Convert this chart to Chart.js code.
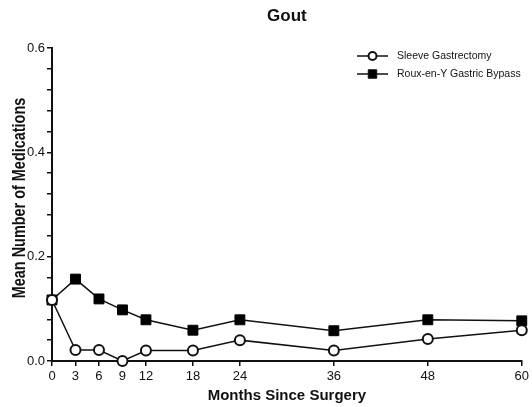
<!DOCTYPE html>
<html>
<head>
<meta charset="utf-8">
<script src="https://cdn.jsdelivr.net/npm/chart.js@4"></script>
<style>
  html, body { margin: 0; padding: 0; background: #fff; }
  #wrap { width: 532px; height: 407px; }
</style>
</head>
<body>
<div id="wrap"><canvas id="goutChart"></canvas></div>
<script>
// months after surgery (x values)
const months = [0, 3, 6, 9, 12, 18, 24, 36, 48, 60];
// mean number of medications
const sleeveValues = [0.117, 0.021, 0.021, 0.0, 0.02, 0.02, 0.04, 0.02, 0.042, 0.059];
const bypassValues = [0.117, 0.157, 0.119, 0.098, 0.079, 0.059, 0.079, 0.058, 0.079, 0.077];
const seriesNames = ['Sleeve Gastrectomy', 'Roux-en-Y Gastric Bypass'];
const yLabelTicks = [0, 0.2, 0.4, 0.6];
const yTitle = 'Mean Number of Medications';

const FONT = 'Arial, "Liberation Sans", sans-serif';
const INK = '#111';

const toPoints = vals => months.map((m, i) => ({ x: m, y: vals[i] }));

// legend drawn by hand: short line through the marker, like the original figure
const lineLegend = {
    id: 'lineLegend',
    afterDraw(chart) {
        const ctx = chart.ctx;
        const x0 = 357, x1 = 388, tx = 397;
        const rows = [56, 74];
        chart.data.datasets.forEach((ds, i) => {
            const y = rows[i];
            ctx.save();
            ctx.strokeStyle = INK;
            ctx.lineWidth = 1.5;
            ctx.beginPath();
            ctx.moveTo(x0, y);
            ctx.lineTo(x1, y);
            ctx.stroke();
            ctx.fillStyle = ds.pointBackgroundColor;
            ctx.strokeStyle = INK;
            ctx.lineWidth = ds.pointBorderWidth;
            Chart.helpers.drawPoint(ctx, {
                pointStyle: ds.pointStyle,
                radius: ds.pointStyle === 'rect' ? 6 : 4,
                borderWidth: ds.pointBorderWidth
            }, (x0 + x1) / 2, y);
            ctx.fillStyle = INK;
            ctx.font = '10.5px ' + FONT;
            ctx.textBaseline = 'middle';
            ctx.textAlign = 'left';
            ctx.fillText(ds.label, tx, y);
            ctx.restore();
        });
    }
};

// y axis title: the original is squeezed along its length, so draw it rotated and scaled
const yTitlePlugin = {
    id: 'yTitlePlugin',
    afterDraw(chart) {
        const ctx = chart.ctx;
        ctx.save();
        ctx.translate(20, 198);
        ctx.rotate(-Math.PI / 2);
        ctx.scale(0.76, 1);
        ctx.fillStyle = INK;
        ctx.font = 'bold 19px ' + FONT;
        ctx.textAlign = 'center';
        ctx.textBaseline = 'middle';
        ctx.fillText(yTitle, 0, 0);
        ctx.restore();
    }
};

const ctx = document.getElementById('goutChart').getContext('2d');
new Chart(ctx, {
    type: 'line',
    data: {
        datasets: [
            {
                label: seriesNames[0],
                data: toPoints(sleeveValues),
                borderColor: INK,
                borderWidth: 1.5,
                pointStyle: 'circle',
                pointRadius: 5,
                pointBorderWidth: 2,
                pointBackgroundColor: '#fff',
                pointBorderColor: INK,
                tension: 0,
                clip: false
            },
            {
                label: seriesNames[1],
                data: toPoints(bypassValues),
                borderColor: INK,
                borderWidth: 1.5,
                pointStyle: 'rect',
                pointRadius: 7,
                pointBorderWidth: 1,
                pointBackgroundColor: '#000',
                pointBorderColor: '#000',
                tension: 0,
                clip: false
            }
        ]
    },
    options: {
        responsive: true,
        maintainAspectRatio: false,
        animation: false,
        layout: { padding: { left: 0, right: 9, top: 0, bottom: 2 } },
        plugins: {
            legend: { display: false },
            tooltip: { enabled: false },
            title: {
                display: true,
                text: 'Gout',
                fullSize: false,
                color: INK,
                font: { family: FONT, size: 17, weight: 'bold' },
                padding: { top: 6, bottom: 21.6 }
            }
        },
        scales: {
            x: {
                type: 'linear',
                min: 0,
                max: 60,
                afterBuildTicks: axis => {
                    axis.ticks = months.map(v => ({ value: v }));
                },
                afterFit: axis => { axis.height = 44; },
                grid: {
                    display: true,
                    drawOnChartArea: false,
                    drawTicks: true,
                    tickLength: 5,
                    color: INK,
                    lineWidth: 1.5
                },
                border: { display: true, color: INK, width: 2 },
                ticks: {
                    color: INK,
                    padding: 3,
                    maxRotation: 0,
                    autoSkip: false,
                    font: { family: FONT, size: 13 }
                },
                title: {
                    display: true,
                    text: 'Months Since Surgery',
                    color: INK,
                    padding: { top: 0, bottom: 0 },
                    font: { family: FONT, size: 15, weight: 'bold' }
                }
            },
            y: {
                min: 0,
                max: 0.6,
                afterBuildTicks: axis => {
                    const t = [];
                    for (let k = 0; k <= 15; k++) t.push({ value: k * 0.04 });
                    axis.ticks = t;
                },
                afterFit: axis => { axis.width = 52; },
                grid: {
                    display: true,
                    drawOnChartArea: false,
                    drawTicks: true,
                    tickLength: 5,
                    color: INK,
                    lineWidth: 1.5
                },
                border: { display: true, color: INK, width: 2 },
                ticks: {
                    color: INK,
                    padding: 2,
                    autoSkip: false,
                    font: { family: FONT, size: 13 },
                    callback: v => {
                        const hit = yLabelTicks.find(t => Math.abs(t - v) < 1e-6);
                        return hit === undefined ? '' : hit.toFixed(1);
                    }
                },
                title: { display: false }
            }
        }
    },
    plugins: [lineLegend, yTitlePlugin]
});
</script>
</body>
</html>
